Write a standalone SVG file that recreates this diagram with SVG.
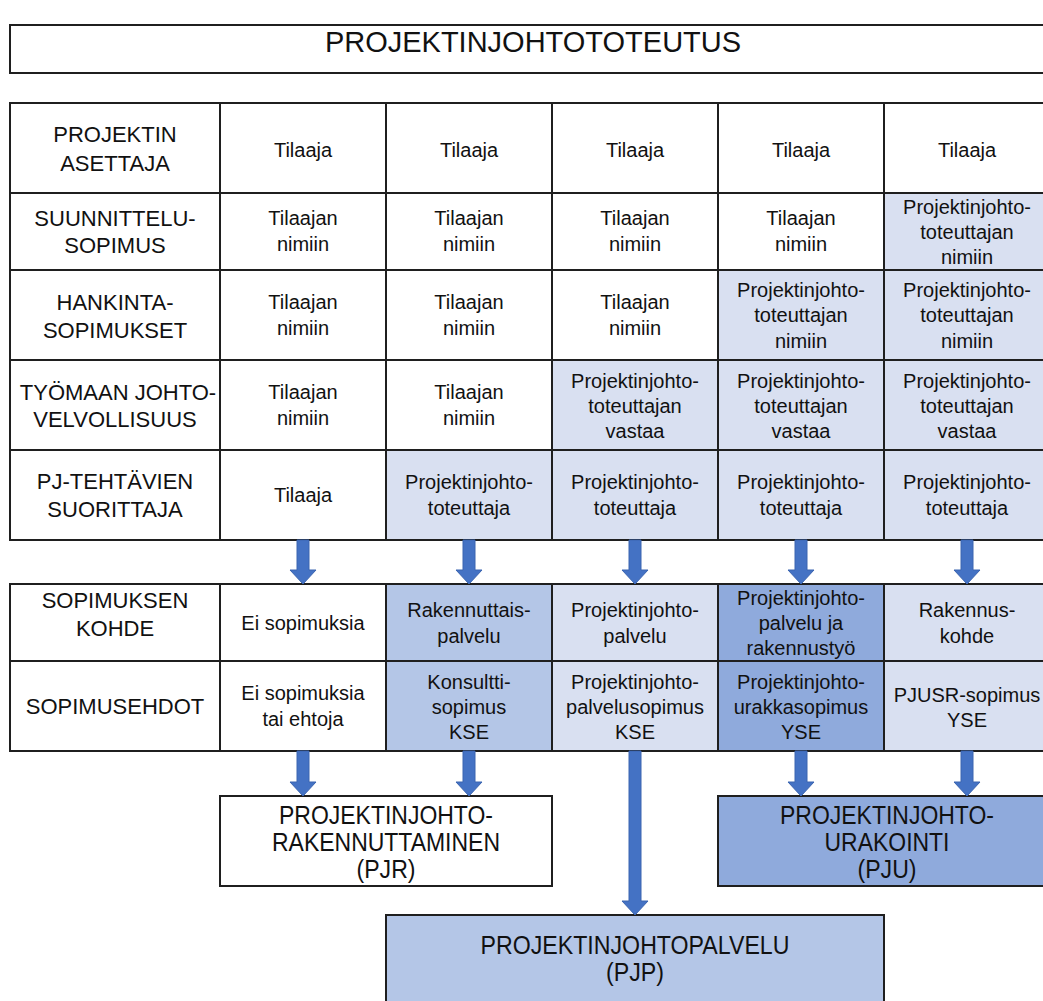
<svg xmlns="http://www.w3.org/2000/svg" width="1043" height="1001" viewBox="0 0 1043 1001">
  <style>
    .box { stroke: #1f1f1f; stroke-width: 2; }
    .w { fill: #ffffff; }
    .l { fill: #d9e0f1; }
    .m { fill: #b4c6e7; }
    .d { fill: #8faadc; }
    text { font-family: "Liberation Sans", Arial, sans-serif; fill: #111111; text-anchor: middle; }
    .hd { font-size: 22px; }
    .cl { font-size: 20px; }
    .big { font-size: 25px; }
    .ttl { font-size: 29px; }
    .arr { fill: #4472c4; stroke: #3a64b0; stroke-width: 1; }
  </style>

  <!-- title -->
  <g id="title">
    <rect class="box w" x="10" y="25" width="1045" height="48"/>
    <text class="ttl" x="533" y="52">PROJEKTINJOHTOTOTEUTUS</text>
  </g>

  <!-- upper table: row headers -->
  <g id="h-asettaja">
    <rect class="box w" x="10" y="103" width="210" height="90"/>
    <text class="hd" x="115" y="142">PROJEKTIN</text>
    <text class="hd" x="115" y="171">ASETTAJA</text>
  </g>
  <g id="h-suunnittelu">
    <rect class="box w" x="10" y="193" width="210" height="77"/>
    <text class="hd" x="115" y="226">SUUNNITTELU-</text>
    <text class="hd" x="115" y="253">SOPIMUS</text>
  </g>
  <g id="h-hankinta">
    <rect class="box w" x="10" y="270" width="210" height="90"/>
    <text class="hd" x="115" y="310">HANKINTA-</text>
    <text class="hd" x="115" y="338">SOPIMUKSET</text>
  </g>
  <g id="h-tyomaa">
    <rect class="box w" x="10" y="360" width="210" height="90"/>
    <text class="hd" x="118" y="400">TYÖMAAN JOHTO-</text>
    <text class="hd" x="115" y="427">VELVOLLISUUS</text>
  </g>
  <g id="h-pj">
    <rect class="box w" x="10" y="450" width="210" height="90"/>
    <text class="hd" x="115" y="489">PJ-TEHTÄVIEN</text>
    <text class="hd" x="115" y="517">SUORITTAJA</text>
  </g>

  <!-- row: projektin asettaja -->
  <g id="r1c1"><rect class="box w" x="220" y="103" width="166" height="90"/><text class="cl" x="303" y="157">Tilaaja</text></g>
  <g id="r1c2"><rect class="box w" x="386" y="103" width="166" height="90"/><text class="cl" x="469" y="157">Tilaaja</text></g>
  <g id="r1c3"><rect class="box w" x="552" y="103" width="166" height="90"/><text class="cl" x="635" y="157">Tilaaja</text></g>
  <g id="r1c4"><rect class="box w" x="718" y="103" width="166" height="90"/><text class="cl" x="801" y="157">Tilaaja</text></g>
  <g id="r1c5"><rect class="box w" x="884" y="103" width="170" height="90"/><text class="cl" x="967" y="157">Tilaaja</text></g>

  <!-- row: suunnittelusopimus -->
  <g id="r2c1"><rect class="box w" x="220" y="193" width="166" height="77"/><text class="cl" x="303" y="225">Tilaajan</text><text class="cl" x="303" y="251">nimiin</text></g>
  <g id="r2c2"><rect class="box w" x="386" y="193" width="166" height="77"/><text class="cl" x="469" y="225">Tilaajan</text><text class="cl" x="469" y="251">nimiin</text></g>
  <g id="r2c3"><rect class="box w" x="552" y="193" width="166" height="77"/><text class="cl" x="635" y="225">Tilaajan</text><text class="cl" x="635" y="251">nimiin</text></g>
  <g id="r2c4"><rect class="box w" x="718" y="193" width="166" height="77"/><text class="cl" x="801" y="225">Tilaajan</text><text class="cl" x="801" y="251">nimiin</text></g>
  <g id="r2c5"><rect class="box l" x="884" y="193" width="170" height="77"/><text class="cl" x="967" y="214">Projektinjohto-</text><text class="cl" x="967" y="239">toteuttajan</text><text class="cl" x="967" y="264">nimiin</text></g>

  <!-- row: hankintasopimukset -->
  <g id="r3c1"><rect class="box w" x="220" y="270" width="166" height="90"/><text class="cl" x="303" y="309">Tilaajan</text><text class="cl" x="303" y="335">nimiin</text></g>
  <g id="r3c2"><rect class="box w" x="386" y="270" width="166" height="90"/><text class="cl" x="469" y="309">Tilaajan</text><text class="cl" x="469" y="335">nimiin</text></g>
  <g id="r3c3"><rect class="box w" x="552" y="270" width="166" height="90"/><text class="cl" x="635" y="309">Tilaajan</text><text class="cl" x="635" y="335">nimiin</text></g>
  <g id="r3c4"><rect class="box l" x="718" y="270" width="166" height="90"/><text class="cl" x="801" y="297">Projektinjohto-</text><text class="cl" x="801" y="322">toteuttajan</text><text class="cl" x="801" y="348">nimiin</text></g>
  <g id="r3c5"><rect class="box l" x="884" y="270" width="170" height="90"/><text class="cl" x="967" y="297">Projektinjohto-</text><text class="cl" x="967" y="322">toteuttajan</text><text class="cl" x="967" y="348">nimiin</text></g>

  <!-- row: tyomaan johtovelvollisuus -->
  <g id="r4c1"><rect class="box w" x="220" y="360" width="166" height="90"/><text class="cl" x="303" y="399">Tilaajan</text><text class="cl" x="303" y="425">nimiin</text></g>
  <g id="r4c2"><rect class="box w" x="386" y="360" width="166" height="90"/><text class="cl" x="469" y="399">Tilaajan</text><text class="cl" x="469" y="425">nimiin</text></g>
  <g id="r4c3"><rect class="box l" x="552" y="360" width="166" height="90"/><text class="cl" x="635" y="388">Projektinjohto-</text><text class="cl" x="635" y="413">toteuttajan</text><text class="cl" x="635" y="438">vastaa</text></g>
  <g id="r4c4"><rect class="box l" x="718" y="360" width="166" height="90"/><text class="cl" x="801" y="388">Projektinjohto-</text><text class="cl" x="801" y="413">toteuttajan</text><text class="cl" x="801" y="438">vastaa</text></g>
  <g id="r4c5"><rect class="box l" x="884" y="360" width="170" height="90"/><text class="cl" x="967" y="388">Projektinjohto-</text><text class="cl" x="967" y="413">toteuttajan</text><text class="cl" x="967" y="438">vastaa</text></g>

  <!-- row: pj-tehtavien suorittaja -->
  <g id="r5c1"><rect class="box w" x="220" y="450" width="166" height="90"/><text class="cl" x="303" y="502">Tilaaja</text></g>
  <g id="r5c2"><rect class="box l" x="386" y="450" width="166" height="90"/><text class="cl" x="469" y="489">Projektinjohto-</text><text class="cl" x="469" y="515">toteuttaja</text></g>
  <g id="r5c3"><rect class="box l" x="552" y="450" width="166" height="90"/><text class="cl" x="635" y="489">Projektinjohto-</text><text class="cl" x="635" y="515">toteuttaja</text></g>
  <g id="r5c4"><rect class="box l" x="718" y="450" width="166" height="90"/><text class="cl" x="801" y="489">Projektinjohto-</text><text class="cl" x="801" y="515">toteuttaja</text></g>
  <g id="r5c5"><rect class="box l" x="884" y="450" width="170" height="90"/><text class="cl" x="967" y="489">Projektinjohto-</text><text class="cl" x="967" y="515">toteuttaja</text></g>

  <!-- lower table: row headers -->
  <g id="h-kohde">
    <rect class="box w" x="10" y="584" width="210" height="77"/>
    <text class="hd" x="115" y="608">SOPIMUKSEN</text>
    <text class="hd" x="115" y="636">KOHDE</text>
  </g>
  <g id="h-ehdot">
    <rect class="box w" x="10" y="661" width="210" height="90"/>
    <text class="hd" x="115" y="714">SOPIMUSEHDOT</text>
  </g>

  <!-- row: sopimuksen kohde -->
  <g id="k1"><rect class="box w" x="220" y="584" width="166" height="77"/><text class="cl" x="303" y="630">Ei sopimuksia</text></g>
  <g id="k2"><rect class="box m" x="386" y="584" width="166" height="77"/><text class="cl" x="469" y="617">Rakennuttais-</text><text class="cl" x="469" y="643">palvelu</text></g>
  <g id="k3"><rect class="box l" x="552" y="584" width="166" height="77"/><text class="cl" x="635" y="617">Projektinjohto-</text><text class="cl" x="635" y="643">palvelu</text></g>
  <g id="k4"><rect class="box d" x="718" y="584" width="166" height="77"/><text class="cl" x="801" y="605">Projektinjohto-</text><text class="cl" x="801" y="630">palvelu ja</text><text class="cl" x="801" y="655">rakennustyö</text></g>
  <g id="k5"><rect class="box l" x="884" y="584" width="170" height="77"/><text class="cl" x="967" y="617">Rakennus-</text><text class="cl" x="967" y="643">kohde</text></g>

  <!-- row: sopimusehdot -->
  <g id="e1"><rect class="box w" x="220" y="661" width="166" height="90"/><text class="cl" x="303" y="700">Ei sopimuksia</text><text class="cl" x="303" y="726">tai ehtoja</text></g>
  <g id="e2"><rect class="box m" x="386" y="661" width="166" height="90"/><text class="cl" x="469" y="689">Konsultti-</text><text class="cl" x="469" y="714">sopimus</text><text class="cl" x="469" y="739">KSE</text></g>
  <g id="e3"><rect class="box l" x="552" y="661" width="166" height="90"/><text class="cl" x="635" y="689">Projektinjohto-</text><text class="cl" x="635" y="714">palvelusopimus</text><text class="cl" x="635" y="739">KSE</text></g>
  <g id="e4"><rect class="box d" x="718" y="661" width="166" height="90"/><text class="cl" x="801" y="689">Projektinjohto-</text><text class="cl" x="801" y="714">urakkasopimus</text><text class="cl" x="801" y="739">YSE</text></g>
  <g id="e5"><rect class="box l" x="884" y="661" width="170" height="90"/><text class="cl" x="967" y="702">PJUSR-sopimus</text><text class="cl" x="967" y="727">YSE</text></g>

  <!-- result boxes (narrow capitals) -->
  <g id="pjr">
    <rect class="box w" x="220" y="796" width="332" height="90"/>
    <text class="big" x="386" y="824" textLength="214" lengthAdjust="spacingAndGlyphs">PROJEKTINJOHTO-</text>
    <text class="big" x="386" y="851" textLength="228" lengthAdjust="spacingAndGlyphs">RAKENNUTTAMINEN</text>
    <text class="big" x="386" y="878" textLength="59" lengthAdjust="spacingAndGlyphs">(PJR)</text>
  </g>
  <g id="pju">
    <rect class="box d" x="718" y="796" width="340" height="90"/>
    <text class="big" x="887" y="824" textLength="214" lengthAdjust="spacingAndGlyphs">PROJEKTINJOHTO-</text>
    <text class="big" x="887" y="851" textLength="125" lengthAdjust="spacingAndGlyphs">URAKOINTI</text>
    <text class="big" x="887" y="878" textLength="59" lengthAdjust="spacingAndGlyphs">(PJU)</text>
  </g>
  <g id="pjp">
    <rect class="box m" x="386" y="915" width="498" height="95"/>
    <text class="big" x="635" y="954" textLength="309" lengthAdjust="spacingAndGlyphs">PROJEKTINJOHTOPALVELU</text>
    <text class="big" x="635" y="981" textLength="58" lengthAdjust="spacingAndGlyphs">(PJP)</text>
  </g>

  <!-- connectors: block arrows -->
  <g id="connectors">
    <path class="arr" d="M297 540 H309 V570 H316 L303 584 L290 570 H297 Z"/>
    <path class="arr" d="M463 540 H475 V570 H482 L469 584 L456 570 H463 Z"/>
    <path class="arr" d="M629 540 H641 V570 H648 L635 584 L622 570 H629 Z"/>
    <path class="arr" d="M795 540 H807 V570 H814 L801 584 L788 570 H795 Z"/>
    <path class="arr" d="M961 540 H973 V570 H980 L967 584 L954 570 H961 Z"/>

    <path class="arr" d="M297 751 H309 V782 H316 L303 796 L290 782 H297 Z"/>
    <path class="arr" d="M463 751 H475 V782 H482 L469 796 L456 782 H463 Z"/>
    <path class="arr" d="M629 751 H641 V901 H648 L635 915 L622 901 H629 Z"/>
    <path class="arr" d="M795 751 H807 V782 H814 L801 796 L788 782 H795 Z"/>
    <path class="arr" d="M961 751 H973 V782 H980 L967 796 L954 782 H961 Z"/>
  </g>
</svg>
